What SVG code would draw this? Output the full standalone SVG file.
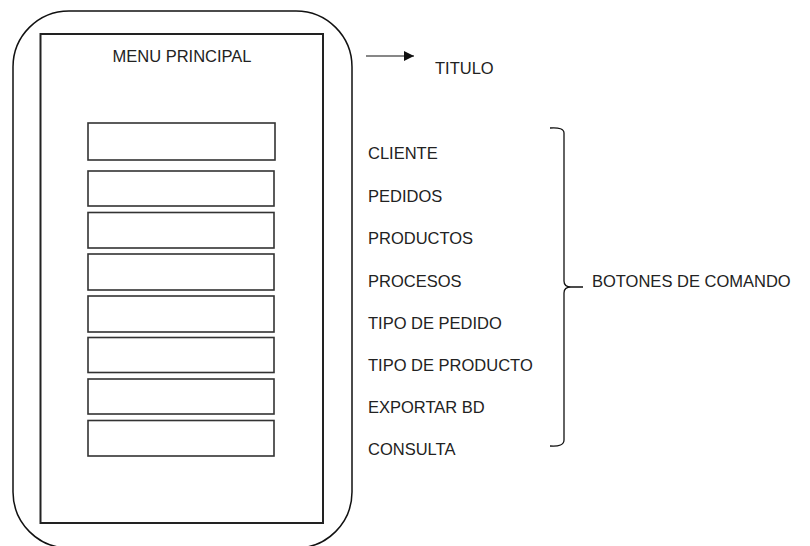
<svg xmlns="http://www.w3.org/2000/svg" width="810" height="546" viewBox="0 0 810 546">
  <style>
    .lbl { font-family: "Liberation Sans", Arial, sans-serif; font-size: 16.5px; fill: #222; }
    .btn { fill: #fff; stroke: #333; stroke-width: 1.6; }
    .ln { fill: none; stroke: #111; }
  </style>
  <defs>
    <marker id="arrow" viewBox="0 0 10 10" refX="10" refY="5" markerWidth="11" markerHeight="10" markerUnits="userSpaceOnUse" orient="auto">
      <path d="M0,0 L10,5 L0,10 Z" fill="#111"/>
    </marker>
  </defs>
  <rect width="810" height="546" fill="#fff"/>

  <!-- device frame -->
  <g id="frame">
    <rect x="13" y="11" width="339" height="537" rx="56" ry="56" fill="#fff" stroke="#111" stroke-width="1.5"/>
  </g>

  <!-- screen -->
  <g id="screen">
    <rect x="40.5" y="34" width="282.5" height="489" fill="#fff" stroke="#222" stroke-width="2"/>
  </g>

  <g id="title">
    <text class="lbl" x="182" y="62" text-anchor="middle">MENU PRINCIPAL</text>
  </g>

  <!-- command buttons -->
  <g id="buttons">
    <rect class="btn" x="88" y="123" width="187" height="37" stroke-width="2.2"/>
    <rect class="btn" x="88" y="171" width="186" height="35"/>
    <rect class="btn" x="88" y="212.5" width="186" height="35.5"/>
    <rect class="btn" x="88" y="254" width="186" height="36"/>
    <rect class="btn" x="88" y="296" width="186" height="36"/>
    <rect class="btn" x="88" y="337.5" width="186" height="35"/>
    <rect class="btn" x="88" y="379" width="186" height="35"/>
    <rect class="btn" x="88" y="420.5" width="186" height="35.5"/>
  </g>

  <!-- annotations -->
  <g id="connectors">
    <line class="ln" x1="366" y1="56" x2="414" y2="56" stroke-width="1.1" marker-end="url(#arrow)"/>
    <path class="ln" stroke-width="1.3" d="M550,128 Q564,127 564,133 L564,281 Q564,287 571,287 L583,287 M571,287 Q564,287 564,293 L564,440 Q564,447 550,446"/>
  </g>

  <g id="labels">
    <text class="lbl" x="435" y="74">TITULO</text>
    <text class="lbl" x="368" y="159">CLIENTE</text>
    <text class="lbl" x="368" y="201.5">PEDIDOS</text>
    <text class="lbl" x="368" y="243.5">PRODUCTOS</text>
    <text class="lbl" x="368" y="286.5">PROCESOS</text>
    <text class="lbl" x="368" y="328.5">TIPO DE PEDIDO</text>
    <text class="lbl" x="368" y="371">TIPO DE PRODUCTO</text>
    <text class="lbl" x="368" y="413">EXPORTAR BD</text>
    <text class="lbl" x="368" y="455">CONSULTA</text>
    <text class="lbl" x="592" y="287">BOTONES DE COMANDO</text>
  </g>
</svg>
